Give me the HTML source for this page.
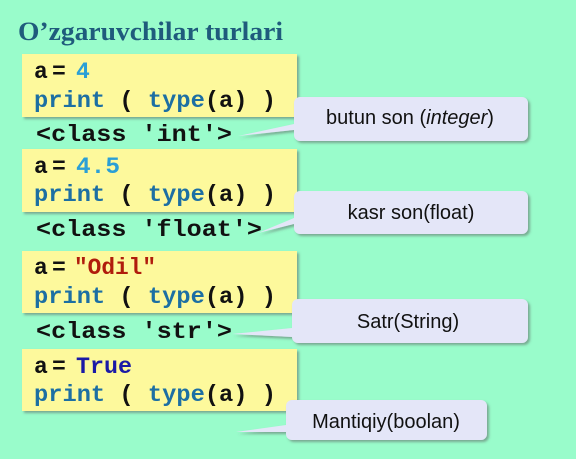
<!DOCTYPE html>
<html><head><meta charset="utf-8"><style>
html,body{margin:0;padding:0;background:#99fccb;}
svg{display:block}
.c{font-family:"Liberation Mono",monospace;font-weight:bold;font-size:23px}
.t{font-family:"Liberation Sans",sans-serif;font-size:20px;fill:#111}
</style></head><body>
<svg width="576" height="459" viewBox="0 0 576 459" xmlns="http://www.w3.org/2000/svg">
<defs>
<filter id="sh" x="-10%" y="-10%" width="130%" height="140%"><feDropShadow dx="2" dy="2" stdDeviation="1.2" flood-color="#555" flood-opacity="0.5"/></filter>
</defs>
<text x="18" y="40" font-family="Liberation Serif,serif" font-weight="bold" font-size="26" fill="#1f5b7c" textLength="265" lengthAdjust="spacingAndGlyphs">O’zgaruvchilar turlari</text>

<g fill="#fdf99c" filter="url(#sh)">
<rect x="22" y="54" width="275" height="63"/>
<rect x="22" y="149" width="275" height="63"/>
<rect x="22" y="251" width="275" height="62"/>
<rect x="22" y="349" width="275" height="62"/>
</g>

<g class="c">
<text x="34" y="78" fill="#111">a</text><text x="52" y="78" fill="#111">=</text><text x="76" y="78" fill="#2a9fd6">4</text>
<text x="34" y="107" fill="#1c6fa3" textLength="242" lengthAdjust="spacingAndGlyphs">print <tspan fill="#111">(</tspan> type<tspan fill="#111">(a) )</tspan></text>
<text x="36" y="141" fill="#111" textLength="196" lengthAdjust="spacingAndGlyphs">&lt;class 'int'&gt;</text>

<text x="34" y="173" fill="#111">a</text><text x="52" y="173" fill="#111">=</text><text x="76" y="173" fill="#2a9fd6" textLength="44" lengthAdjust="spacingAndGlyphs">4.5</text>
<text x="34" y="201" fill="#1c6fa3" textLength="242" lengthAdjust="spacingAndGlyphs">print <tspan fill="#111">(</tspan> type<tspan fill="#111">(a) )</tspan></text>
<text x="36" y="236" fill="#111" textLength="226" lengthAdjust="spacingAndGlyphs">&lt;class 'float'&gt;</text>

<text x="34" y="274" fill="#111">a</text><text x="52" y="274" fill="#111">=</text><text x="74" y="274" fill="#b01c0c" textLength="82" lengthAdjust="spacingAndGlyphs">"Odil"</text>
<text x="34" y="303" fill="#1c6fa3" textLength="242" lengthAdjust="spacingAndGlyphs">print <tspan fill="#111">(</tspan> type<tspan fill="#111">(a) )</tspan></text>
<text x="36" y="338" fill="#111" textLength="196" lengthAdjust="spacingAndGlyphs">&lt;class 'str'&gt;</text>

<text x="34" y="373" fill="#111">a</text><text x="52" y="373" fill="#111">=</text><text x="76" y="373" fill="#1a1aa6" textLength="56" lengthAdjust="spacingAndGlyphs">True</text>
<text x="34" y="401" fill="#1c6fa3" textLength="242" lengthAdjust="spacingAndGlyphs">print <tspan fill="#111">(</tspan> type<tspan fill="#111">(a) )</tspan></text>
</g>

<g fill="#e4e6f8" filter="url(#sh)">
<path d="M300,97 H522 a6,6 0 0 1 6,6 V135 a6,6 0 0 1 -6,6 H300 a6,6 0 0 1 -6,-6 V130 L238,136 L294,124 V103 a6,6 0 0 1 6,-6Z"/>
<path d="M300,191 H522 a6,6 0 0 1 6,6 V228 a6,6 0 0 1 -6,6 H300 a6,6 0 0 1 -6,-6 V224 L258,233 L294,218 V197 a6,6 0 0 1 6,-6Z"/>
<path d="M298,299 H522 a6,6 0 0 1 6,6 V337 a6,6 0 0 1 -6,6 H298 a6,6 0 0 1 -6,-6 V337 L232,334 L292,328 V305 a6,6 0 0 1 6,-6Z"/>
<path d="M292,400 H481 a6,6 0 0 1 6,6 V434 a6,6 0 0 1 -6,6 H292 a6,6 0 0 1 -6,-6 V432 L236,432 L286,425 V406 a6,6 0 0 1 6,-6Z"/>
</g>

<text class="t" x="410" y="124" text-anchor="middle">butun son (<tspan font-style="italic">integer</tspan>)</text>
<text class="t" x="411" y="219" text-anchor="middle">kasr son(float)</text>
<text class="t" x="408" y="328" text-anchor="middle">Satr(String)</text>
<text class="t" x="386" y="428" text-anchor="middle">Mantiqiy(boolan)</text>
</svg>
</body></html>
